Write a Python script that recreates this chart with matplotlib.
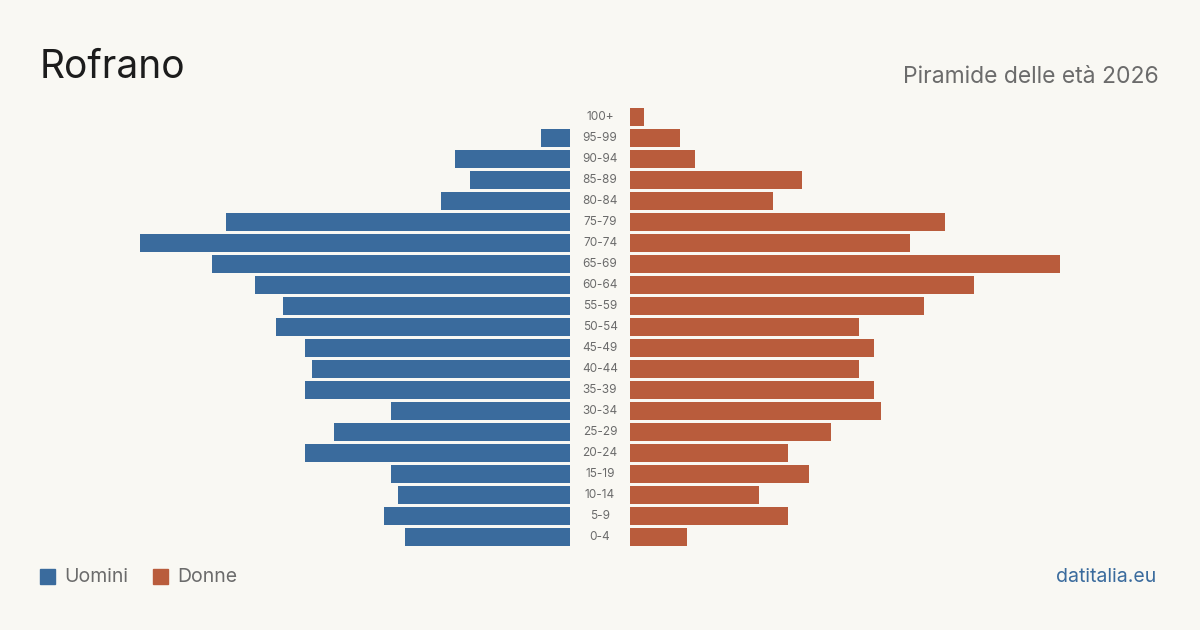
import matplotlib
matplotlib.use("Agg")
import matplotlib.pyplot as plt
from matplotlib.patches import Rectangle

# Data
ages = ["0-4", "5-9", "10-14", "15-19", "20-24", "25-29", "30-34", "35-39",
        "40-44", "45-49", "50-54", "55-59", "60-64", "65-69", "70-74",
        "75-79", "80-84", "85-89", "90-94", "95-99", "100+"]
uomini = [23, 26, 24, 25, 37, 33, 25, 37, 36, 37, 41, 40, 44, 50, 60,
          48, 18, 14, 16, 4, 0]
donne = [8, 22, 18, 25, 22, 28, 35, 34, 32, 34, 32, 41, 48, 60, 39,
         44, 20, 24, 9, 7, 2]

# Style
BG = "#f9f8f3"
BLUE = "#3a6b9d"
ORANGE = "#b95c3c"
GRAY = "#6b6b6b"
plt.rcParams['font.family'] = ['Inter', 'DejaVu Sans']

W, H = 1200, 630
fig = plt.figure(figsize=(12, 6.3), dpi=100, facecolor=BG)

n = len(ages)
pitch = 21
top = 117 - pitch / 2
bottom = top + n * pitch
vmax = 60

def fx(px):
    return px / W

def fy(py):
    return 1 - py / H

ax_l = fig.add_axes([fx(140), fy(bottom), fx(430), n * pitch / H])
ax_r = fig.add_axes([fx(630), fy(bottom), fx(430), n * pitch / H])

pos = list(range(n))
ax_l.barh(pos, uomini, height=0.81, color=BLUE)
ax_r.barh(pos, donne, height=0.81, color=ORANGE)
ax_l.set_xlim(vmax, 0)
ax_r.set_xlim(0, vmax)
for ax in (ax_l, ax_r):
    ax.set_ylim(-0.5, n - 0.5)
    ax.axis("off")
    ax.set_facecolor("none")

# Age labels in the gap
for i, lab in enumerate(ages):
    ax_r.annotate(lab, xy=(0, i), xycoords="data", xytext=(-30, 0),
                  textcoords="offset pixels", ha="center", va="center",
                  fontsize=8.5, color=GRAY)

# Titles
fig.text(fx(40), fy(67), "Rofrano", fontsize=28, color="#1c1c1c",
         ha="left", va="center")
fig.text(fx(1159), fy(77), "Piramide delle età 2026", fontsize=16.5,
         color=GRAY, ha="right", va="center")

# Legend
fig.patches.append(Rectangle((fx(40), fy(584)), fx(15), 15 / H,
                             transform=fig.transFigure, color=BLUE))
fig.text(fx(64), fy(577), "Uomini", fontsize=14, color=GRAY,
         ha="left", va="center")
fig.patches.append(Rectangle((fx(153), fy(584)), fx(15), 15 / H,
                             transform=fig.transFigure, color=ORANGE))
fig.text(fx(177), fy(577), "Donne", fontsize=14, color=GRAY,
         ha="left", va="center")
fig.text(fx(1156), fy(577), "datitalia.eu", fontsize=14, color=BLUE,
         ha="right", va="center")

fig.savefig("out.png", dpi=100, facecolor=BG)
